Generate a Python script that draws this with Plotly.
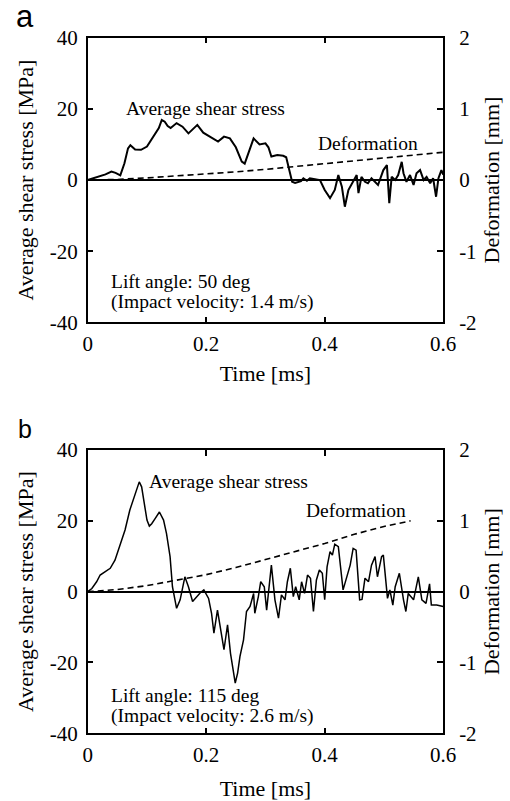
import plotly.graph_objects as go

# ---------------- data: panel a ----------------
time_a = [0, 0.01, 0.02, 0.03, 0.04, 0.047, 0.055, 0.062, 0.068, 0.072,
          0.08, 0.09, 0.1, 0.11, 0.12, 0.125, 0.13, 0.135, 0.14, 0.15,
          0.16, 0.17, 0.18, 0.185, 0.195, 0.21, 0.22, 0.23, 0.24, 0.25,
          0.26, 0.265, 0.27, 0.28, 0.29, 0.3, 0.305, 0.31, 0.32, 0.33,
          0.335, 0.34, 0.345, 0.35, 0.36, 0.364, 0.37, 0.375, 0.38, 0.385,
          0.392, 0.4, 0.409, 0.417, 0.423, 0.429, 0.434, 0.44, 0.446, 0.454,
          0.457, 0.462, 0.468, 0.473, 0.479, 0.485, 0.49, 0.499, 0.505, 0.509,
          0.513, 0.519, 0.524, 0.53, 0.533, 0.538, 0.544, 0.55, 0.555, 0.561,
          0.567, 0.572, 0.578, 0.583, 0.588, 0.592, 0.597, 0.6]
stress_a = [0, 0.5, 1.0, 1.6, 2.4, 2.0, 1.3, 4.7, 8.9, 9.8,
            8.6, 8.5, 9.4, 12.0, 14.6, 16.9, 16.4, 15.2, 14.6, 16.0,
            15.0, 13.1, 14.8, 15.5, 13.3, 11.7, 10.8, 12.2, 11.7, 9.2,
            5.2, 4.6, 7.0, 11.7, 10.0, 10.3, 9.2, 6.6, 7.0, 6.8,
            6.4, 3.0, -0.5, -0.8, -0.3, 0.5, -0.2, 0.5, 0.3, 0.2,
            0.0, -2.8, -5.1, -2.8, 1.4, -1.9, -7.5, -2.8, -0.9, 1.4,
            -3.7, 0.9, -0.5, -0.9, 0.5, -0.5, -1.4, 2.8, 4.2, -6.5,
            0.9, 0.0, 1.4, 5.1, 1.9, -0.5, 1.4, -1.4, 1.9, 2.8,
            0.0, 0.9, -0.9, 0.5, -4.7, 0.5, 2.8, 1.5]
def_time_a = [0, 0.05, 0.1, 0.15, 0.2, 0.25, 0.3, 0.35, 0.4, 0.45, 0.5, 0.55, 0.6]
deform_a = [0, 0.008, 0.03, 0.055, 0.085, 0.115, 0.15, 0.19, 0.235, 0.27, 0.31, 0.35, 0.39]

# ---------------- data: panel b ----------------
time_b = [0, 0.007, 0.015, 0.021, 0.029, 0.038, 0.046, 0.055, 0.063, 0.071,
          0.077, 0.083, 0.087, 0.091, 0.095, 0.1, 0.104, 0.108, 0.114, 0.121,
          0.128, 0.133, 0.139, 0.143, 0.15, 0.156, 0.164, 0.17, 0.177, 0.184,
          0.19, 0.196, 0.204, 0.209, 0.213, 0.219, 0.224, 0.23, 0.236, 0.241,
          0.249, 0.253, 0.257, 0.263, 0.268, 0.274, 0.28, 0.282, 0.288, 0.292,
          0.298, 0.302, 0.31, 0.316, 0.322, 0.327, 0.333, 0.337, 0.342, 0.347,
          0.351, 0.357, 0.361, 0.366, 0.371, 0.376, 0.381, 0.386, 0.391, 0.396,
          0.4, 0.404, 0.409, 0.413, 0.417, 0.423, 0.431, 0.437, 0.443, 0.448,
          0.453, 0.459, 0.463, 0.468, 0.474, 0.479, 0.485, 0.489, 0.496, 0.499,
          0.506, 0.51, 0.515, 0.519, 0.526, 0.533, 0.537, 0.541, 0.55, 0.558,
          0.564, 0.571, 0.577, 0.58, 0.589, 0.6]
stress_b = [0, 0.9, 2.8, 4.7, 5.6, 6.6, 8.9, 13.6, 17.4, 23.0,
            25.8, 28.6, 31.0, 29.6, 25.8, 20.2, 18.5, 19.2, 20.7, 22.5,
            20.2, 16.4, 9.9, 1.4, -4.7, -2.3, 4.2, 1.4, -2.8, -1.4,
            -0.3, 0.5, -1.9, -6.1, -11.7, -5.2, -10.8, -16.4, -9.4, -17.4,
            -25.8, -23.0, -18.3, -13.6, -5.6, -4.2, -0.5, -6.1, -1.4, 2.8,
            1.4, -5.2, 7.5, -2.3, -7.5, -0.9, -2.3, 2.8, 6.6, -1.4,
            1.4, -2.3, 2.8, -0.5, 4.7, 3.8, -5.6, 3.3, 6.1, 5.2,
            -2.3, 7.0, 11.3, 10.3, 13.4, 12.7, 0.5, 4.2, 7.5, 12.2,
            11.7, -2.3, -2.2, 3.8, 2.8, 7.5, 9.9, 4.2, 9.9, 10.3,
            -1.9, 0.5, -3.8, 1.4, 5.2, -2.3, -5.6, -0.5, -2.3, 4.2,
            -2.3, -3.3, 2.2, -3.8, -3.8, -4.2]
def_time_b = [0, 0.05, 0.1, 0.15, 0.2, 0.25, 0.3, 0.35, 0.4, 0.45, 0.5, 0.545]
deform_b = [0, 0.03, 0.085, 0.16, 0.24, 0.34, 0.45, 0.56, 0.68, 0.81, 0.92, 1.0]

# ---------------- tick labels ----------------
x_ticks = [0, 0.2, 0.4, 0.6]
x_ticktext = ["0", "0.2", "0.4", "0.6"]
stress_ticks = [-40, -20, 0, 20, 40]
stress_ticktext = ["-40", "-20", "0", "20", "40"]
deform_ticks = [-2, -1, 0, 1, 2]
deform_ticktext = ["-2", "-1", "0", "1", "2"]

SERIF = "Liberation Serif, Times New Roman, serif"
TICKFONT = dict(family=SERIF, size=21, color="black")
TITLEFONT = dict(family=SERIF, size=22, color="black")

fig = go.Figure()
fig.add_trace(go.Scatter(x=time_a, y=stress_a, mode="lines", xaxis="x", yaxis="y",
                         line=dict(color="black", width=2), showlegend=False))
fig.add_trace(go.Scatter(x=def_time_a, y=deform_a, mode="lines", xaxis="x", yaxis="y2",
                         line=dict(color="black", width=1.6, dash="6px,4px"), showlegend=False))
fig.add_trace(go.Scatter(x=time_b, y=stress_b, mode="lines", xaxis="x2", yaxis="y3",
                         line=dict(color="black", width=1.5), showlegend=False))
fig.add_trace(go.Scatter(x=def_time_b, y=deform_b, mode="lines", xaxis="x2", yaxis="y4",
                         line=dict(color="black", width=1.6, dash="6px,4px"), showlegend=False))

XDOM = [0.172, 0.869]
DOM_A = [0.5976, 0.9529]
DOM_B = [0.0845, 0.4382]

def xax(anchor, standoff):
    return dict(domain=XDOM, anchor=anchor, range=[0, 0.6], tickvals=x_ticks, ticktext=x_ticktext,
                ticks="inside", ticklen=6, tickwidth=1.5, tickcolor="black",
                showline=True, linecolor="black", linewidth=1.5, mirror="ticks",
                showgrid=False, zeroline=False, tickfont=TICKFONT,
                title=dict(text="Time [ms]", font=TITLEFONT, standoff=standoff), automargin=False,
                ticklabelstandoff=2)

def yleft(dom, anchor):
    return dict(domain=dom, anchor=anchor, range=[-40, 40], tickvals=stress_ticks, ticktext=stress_ticktext,
                ticks="inside", ticklen=6, tickwidth=1.5, tickcolor="black",
                showline=True, linecolor="black", linewidth=1.5,
                showgrid=False, zeroline=True, zerolinecolor="black", zerolinewidth=1.5,
                tickfont=TICKFONT, automargin=False, ticklabelstandoff=4,
                title=dict(text="Average shear stress [MPa]", font=TITLEFONT, standoff=10))

def yright(over, anchor):
    return dict(overlaying=over, anchor=anchor, side="right", range=[-2, 2], tickvals=deform_ticks,
                ticktext=deform_ticktext, ticks="inside", ticklen=6, tickwidth=1.5, tickcolor="black",
                showline=True, linecolor="black", linewidth=1.5,
                showgrid=False, zeroline=False, tickfont=TICKFONT, automargin=False,
                ticklabelstandoff=10,
                title=dict(text="Deformation [mm]", font=TITLEFONT, standoff=8))

ANNFONT = dict(family=SERIF, size=19.5, color="black")

def note(text, x, y, xr, yr):
    return dict(text=text, x=x, y=y, xref=xr, yref=yr, xanchor="left", yanchor="middle",
                showarrow=False, font=ANNFONT)

annotations = [
    note("Average shear stress", 0.061, 20, "x", "y"),
    note("Deformation", 0.385, 10.4, "x", "y"),
    note("Lift angle: 50 deg", 0.0365, -28.6, "x", "y"),
    note("(Impact velocity: 1.4 m/s)", 0.0365, -34.4, "x", "y"),
    note("Average shear stress", 0.0995, 31, "x2", "y3"),
    note("Deformation", 0.365, 23, "x2", "y3"),
    note("Lift angle: 115 deg", 0.0365, -29.3, "x2", "y3"),
    note("(Impact velocity: 2.6 m/s)", 0.0365, -35.0, "x2", "y3"),
    dict(text="a", x=0.049, y=0.98, xref="paper", yref="paper", xanchor="center", yanchor="middle",
         showarrow=False, font=dict(family="Liberation Sans, Arial, sans-serif", size=31, color="black")),
    dict(text="b", x=0.049, y=0.465, xref="paper", yref="paper", xanchor="center", yanchor="middle",
         showarrow=False, font=dict(family="Liberation Sans, Arial, sans-serif", size=25, color="black")),
]

fig.update_layout(
    width=510, height=801,
    margin=dict(l=0, r=0, t=0, b=0),
    paper_bgcolor="white", plot_bgcolor="white",
    font=dict(family=SERIF, color="black"),
    xaxis=xax("y", 10),
    yaxis=yleft(DOM_A, "x"),
    yaxis2=yright("y", "x"),
    xaxis2=xax("y3", 16),
    yaxis3=yleft(DOM_B, "x2"),
    yaxis4=yright("y3", "x2"),
    annotations=annotations,
    showlegend=False,
)

fig.write_html("out.html", config={"displayModeBar": False},
               post_script="document.body.style.margin='0';document.body.style.overflow='hidden';")
